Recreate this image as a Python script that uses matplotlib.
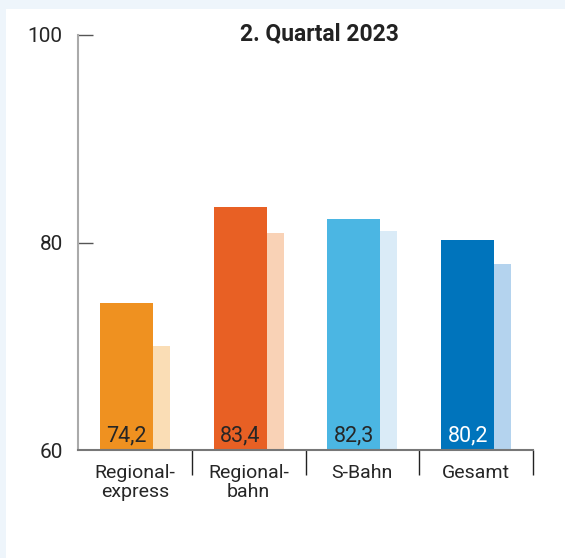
import matplotlib.pyplot as plt
from matplotlib.patches import Rectangle
import numpy as np

plt.rcParams['font.family'] = ['Roboto', 'DejaVu Sans']

# data
categories = ['Regional-\nexpress', 'Regional-\nbahn', 'S-Bahn', 'Gesamt']
q2_2023 = [74.2, 83.4, 82.3, 80.2]
prev_values = [70.0, 80.9, 81.1, 77.9]
value_labels = ['74,2', '83,4', '82,3', '80,2']

main_colors = ['#EF9120', '#E86024', '#4BB6E3', '#0074BC']
light_colors = ['#FADDB5', '#F9D2B6', '#DAEBF7', '#B4D3EE']
label_colors = ['#262626', '#262626', '#262626', '#ffffff']

fig = plt.figure(figsize=(5.65, 5.58), dpi=100)
fig.patch.set_facecolor('#EEF5FB')
# white panel
fig.patches.append(Rectangle((6 / 565, 0), 1, 549 / 558, transform=fig.transFigure,
                             facecolor='white', edgecolor='none', zorder=-5))

ax = fig.add_axes([78 / 565, 108 / 558, 455 / 565, 415 / 558])
ax.set_facecolor('none')

x = np.arange(len(categories))
w_main = 0.466
w_light = 0.15
left = x - (w_main + w_light) / 2

ax.bar(left + w_main / 2, q2_2023, width=w_main, color=main_colors, zorder=2)
ax.bar(left + w_main + w_light / 2, prev_values, width=w_light, color=light_colors, zorder=1)

for xi, lab, c in zip(left + w_main / 2, value_labels, label_colors):
    ax.annotate(lab, (xi, 60), xytext=(0, 6.5), textcoords='offset points',
                ha='center', va='baseline', fontsize=15.5, color=c, zorder=3)

ax.set_ylim(60, 100)
ax.set_xlim(-0.5, 3.5)

for s in ['top', 'right']:
    ax.spines[s].set_visible(False)
ax.spines['left'].set_color('#aaaaaa')
ax.spines['left'].set_linewidth(1.5)
ax.spines['bottom'].set_color('#777777')
ax.spines['bottom'].set_linewidth(1.5)
ax.spines['bottom'].set_zorder(4)

ax.set_yticks([60, 80, 100])
ax.set_yticklabels(['60', '80', '100'])
ax.tick_params(axis='y', direction='in', length=11, width=1, color='#555555',
               pad=11, labelsize=15, labelcolor='#262626')
ax.yaxis.get_major_ticks()[0].tick1line.set_visible(False)

ax.set_xticks(x)
ax.set_xticklabels(categories, linespacing=1.05)
ax.set_xticks([0.5, 1.5, 2.5, 3.5], minor=True)
ax.tick_params(axis='x', which='major', length=0, pad=10, labelsize=14, labelcolor='#262626')
ax.tick_params(axis='x', which='minor', direction='out', length=18, width=1, color='#222222')

fig.text(319.5 / 565, 518 / 558, '2. Quartal 2023', ha='center', va='baseline',
         fontsize=16.5, fontweight='bold', color='#222222')

fig.savefig('out.png', dpi=100, facecolor=fig.get_facecolor())
